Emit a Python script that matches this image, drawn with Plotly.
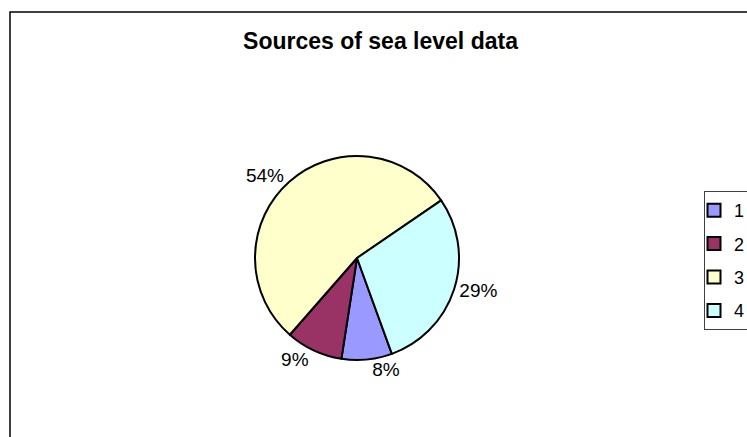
import plotly.graph_objects as go

categories = ["1", "2", "3", "4"]
shares = [8, 9, 54, 29]
colors = ["#9999FF", "#993366", "#FFFFCC", "#CCFFFF"]
title_text = "Sources of sea level data"

W, H = 747, 437
FONT = "Liberation Sans, Arial, sans-serif"

cx, cy, r = 357, 258, 102

fig = go.Figure()

fig.add_trace(
    go.Pie(
        labels=categories,
        values=shares,
        sort=False,
        direction="clockwise",
        rotation=160,
        marker=dict(colors=colors, line=dict(color="#000000", width=2)),
        texttemplate="%{percent:.0%}",
        textposition="outside",
        outsidetextfont=dict(family=FONT, size=19, color="#000000"),
        hoverinfo="label+percent",
        domain=dict(x=[(cx - r) / W, (cx + r) / W], y=[1 - (cy + r) / H, 1 - (cy - r) / H]),
        showlegend=False,
    )
)

# legend entries (one group per category so the spacing can be set)
for name, col in zip(categories, colors):
    fig.add_trace(
        go.Scatter(
            x=[None],
            y=[None],
            mode="markers",
            name=name,
            legendgroup=name,
            marker=dict(symbol="square", size=13, color=col, line=dict(color="#000000", width=2)),
            showlegend=True,
        )
    )

fig.update_layout(
    width=W,
    height=H,
    margin=dict(l=0, r=0, t=0, b=0, autoexpand=False),
    paper_bgcolor="#FFFFFF",
    plot_bgcolor="#FFFFFF",
    font=dict(family=FONT, color="#000000"),
    xaxis=dict(visible=False),
    yaxis=dict(visible=False),
    title=dict(
        text="<b>" + title_text + "</b>",
        x=380.5 / W,
        xanchor="center",
        y=1 - 41 / H,
        yanchor="middle",
        font=dict(family=FONT, size=23, color="#000000"),
    ),
    legend=dict(
        x=704 / W,
        y=1 - 191 / H,
        xanchor="left",
        yanchor="top",
        bordercolor="#404040",
        borderwidth=1,
        bgcolor="#FFFFFF",
        font=dict(family=FONT, size=18, color="#000000"),
        tracegroupgap=7,
        indentation=-11,
        itemclick=False,
    ),
    shapes=[
        dict(
            type="rect",
            xref="paper",
            yref="paper",
            x0=10 / W,
            x1=760 / W,
            y0=-20 / H,
            y1=1 - 12 / H,
            line=dict(color="#000000", width=1.5),
            fillcolor="rgba(0,0,0,0)",
            layer="below",
        )
    ],
)

fig.write_html("out.html")
